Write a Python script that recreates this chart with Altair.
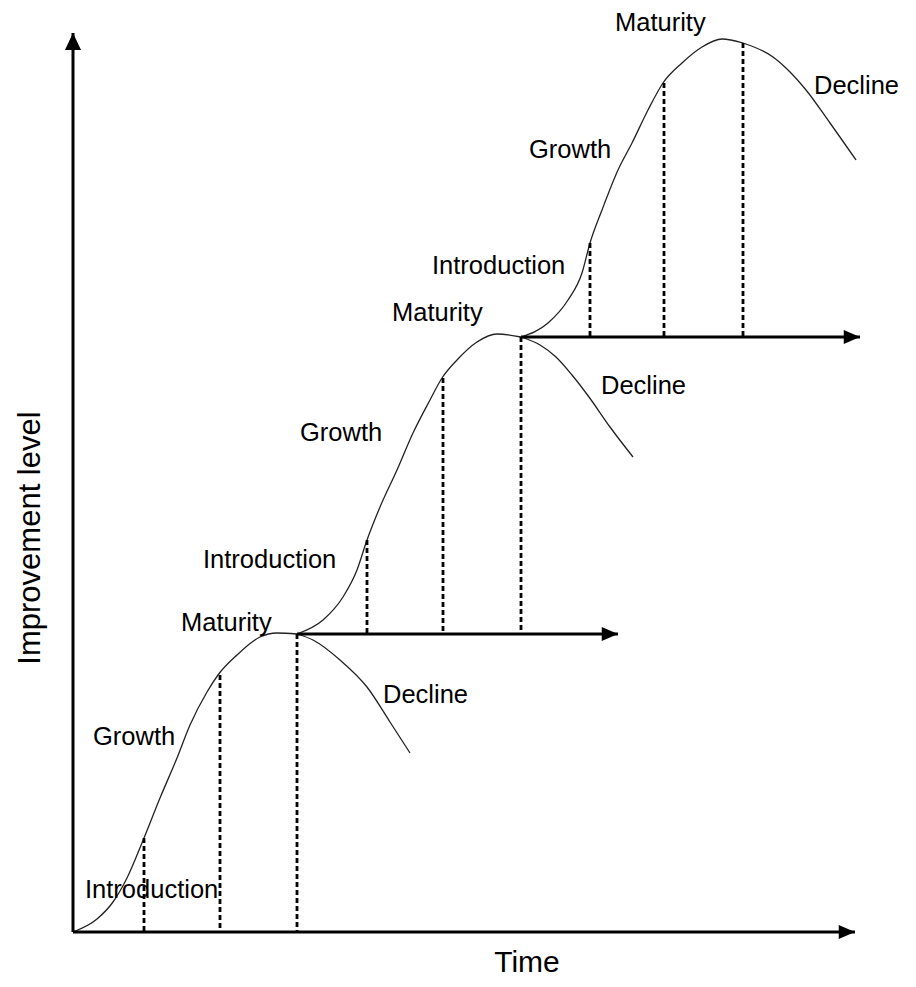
import altair as alt
import pandas as pd

# ---- data (t = time units, level = improvement level units) ----
curve1_t = [0, 24, 40, 54, 71, 87, 104, 117, 134, 145, 164, 187, 204, 224]
curve1_l = [0, 13, 30, 54, 94, 134, 174, 207, 240, 257, 277, 295, 299, 298]
decl1_t = [224, 240, 267, 294, 317, 337]
decl1_l = [298, 292, 272, 245, 210, 179]

curve2_t = [224, 250, 270, 284, 294, 307, 324, 340, 357, 369, 384, 404, 424, 448]
curve2_l = [298, 312, 335, 362, 392, 425, 462, 499, 532, 554, 572, 590, 598, 595]
decl2_t = [448, 467, 483, 499, 516, 537, 560]
decl2_l = [595, 587, 575, 557, 535, 505, 475]

curve3_t = [448, 475, 495, 509, 517, 529, 545, 559, 575, 590, 609, 629, 649, 670]
curve3_l = [595, 609, 632, 659, 689, 722, 762, 789, 822, 849, 869, 885, 893, 889]
decl3_t = [670, 700, 717, 733, 757, 783]
decl3_l = [889, 875, 860, 842, 809, 772]

# stage boundaries (dashed): time, top level, base level
bound_t = [71, 147, 224, 294, 370, 448, 517, 591, 670]
bound_top = [94, 257, 298, 392, 554, 595, 689, 849, 889]
bound_base = [0, 0, 0, 298, 298, 298, 595, 595, 595]

# horizontal time axes (start, end, level)
haxis_t0 = [0, 224, 448]
haxis_t1 = [782, 545, 787]
haxis_l = [0, 298, 595]

# vertical axis
vaxis_top = 899

# stage labels
label_text = ["Introduction", "Growth", "Maturity", "Decline",
              "Introduction", "Growth", "Maturity", "Decline",
              "Introduction", "Growth", "Maturity", "Decline"]
label_t = [12, 20, 108, 310, 130, 227, 319, 528, 359, 456, 542, 741]
label_l = [42, 195, 309, 237, 372, 499, 619, 546, 666, 782, 909, 846]

FONT = "Liberation Sans"

# ---- tables ----
rows = []
for name, ts, ls in [("c1", curve1_t, curve1_l), ("d1", decl1_t, decl1_l),
                     ("c2", curve2_t, curve2_l), ("d2", decl2_t, decl2_l),
                     ("c3", curve3_t, curve3_l), ("d3", decl3_t, decl3_l)]:
    for i, (t, l) in enumerate(zip(ts, ls)):
        rows.append({"series": name, "t": t, "level": l, "i": i})
curves = pd.DataFrame(rows)

bounds = pd.DataFrame({"t": bound_t, "top": bound_top, "base": bound_base})
haxes = pd.DataFrame({"t0": haxis_t0, "t1": haxis_t1, "level": haxis_l})
vaxis = pd.DataFrame({"t": [0], "l0": [0], "l1": [vaxis_top]})
heads_r = pd.DataFrame({"t": haxis_t1, "level": haxis_l})
heads_u = pd.DataFrame({"t": [0], "level": [vaxis_top]})
labels = pd.DataFrame({"text": label_text, "t": label_t, "level": label_l})

xs = alt.Scale(domain=[-65, 835], nice=False, zero=False)
ys = alt.Scale(domain=[-47, 924], nice=False, zero=False)


def X(f):
    return alt.X(f, type="quantitative", scale=xs, axis=None)


def Y(f):
    return alt.Y(f, type="quantitative", scale=ys, axis=None)


lines = alt.Chart(curves).mark_line(
    color="#222222", strokeWidth=1.3, interpolate="monotone"
).encode(x=X("t"), y=Y("level"), detail="series:N", order="i:Q")

dashed = alt.Chart(bounds).mark_rule(
    color="black", strokeWidth=2.8, strokeDash=[5, 3]
).encode(x=X("t"), y=Y("top"), y2="base:Q")

hlines = alt.Chart(haxes).mark_rule(color="black", strokeWidth=3).encode(
    x=X("t0"), x2="t1:Q", y=Y("level"))

vline = alt.Chart(vaxis).mark_rule(color="black", strokeWidth=3).encode(
    x=X("t"), y=Y("l0"), y2="l1:Q")

arrow_r = alt.Chart(heads_r).mark_point(
    shape="M0,0L-2.3,-1L-2.3,1Z", filled=True, color="black", opacity=1,
    size=200, strokeWidth=0
).encode(x=X("t"), y=Y("level"))

arrow_u = alt.Chart(heads_u).mark_point(
    shape="M0,0L-1,2.1L1,2.1Z", filled=True, color="black", opacity=1,
    size=260, strokeWidth=0
).encode(x=X("t"), y=Y("level"))

texts = alt.Chart(labels).mark_text(
    font=FONT, fontSize=25.5, align="left", baseline="middle", color="black"
).encode(x=X("t"), y=Y("level"), text="text:N")

time_title = alt.Chart(pd.DataFrame({"t": [454], "level": [-31], "text": ["Time"]})).mark_text(
    font=FONT, fontSize=30, align="center", baseline="middle", color="black"
).encode(x=X("t"), y=Y("level"), text="text:N")

y_title = alt.Chart(pd.DataFrame({"t": [-42], "level": [394], "text": ["Improvement level"]})).mark_text(
    font=FONT, fontSize=31, align="center", baseline="middle", angle=270, color="black"
).encode(x=X("t"), y=Y("level"), text="text:N")

chart = alt.layer(
    lines, dashed, hlines, vline, arrow_r, arrow_u, texts, time_title, y_title
).properties(
    width=900, height=971, padding=0, background="white",
    autosize=alt.AutoSizeParams(type="none")
).configure_view(stroke=None)

chart.save("out.html", embed_options={"renderer": "svg", "actions": False})
